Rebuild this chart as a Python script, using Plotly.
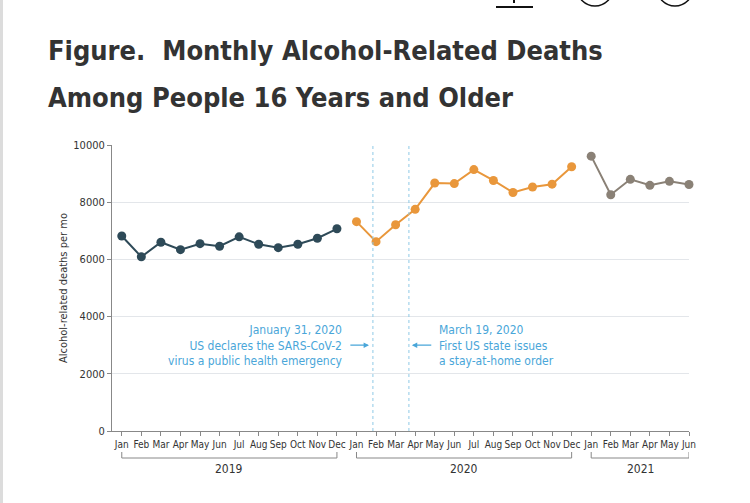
import plotly.graph_objects as go

months = ["Jan", "Feb", "Mar", "Apr", "May", "Jun", "Jul", "Aug", "Sep", "Oct", "Nov", "Dec"]
deaths_2019 = [6820, 6090, 6600, 6340, 6550, 6460, 6790, 6530, 6410, 6530, 6740, 7070]
deaths_2020 = [7320, 6620, 7210, 7750, 8670, 8650, 9140, 8760, 8340, 8530, 8630, 9240]
deaths_2021 = [9610, 8260, 8800, 8590, 8730, 8620]
years = ["2019", "2020", "2021"]
y_ticks = [0, 2000, 4000, 6000, 8000, 10000]
y_tick_labels = ["0", "2000", "4000", "6000", "8000", "10000"]
# events located as month positions (Jan 2019 = 0)
event_pos = [12.84, 14.68]
event_text = ["January 31, 2020<br>US declares the SARS-CoV-2<br>virus a public health emergency",
              "March 19, 2020<br>First US state issues<br>a stay-at-home order"]
title_lines = ["Figure.  Monthly Alcohol-Related Deaths", "Among People 16 Years and Older"]

FONT = "DejaVu Sans Condensed, Liberation Sans Narrow, sans-serif"
colors = ["#2e4a58", "#e9973b", "#8a8176"]
series = [deaths_2019, deaths_2020, deaths_2021]

W, H = 750, 503
ML, MR, MT, MB = 112, 61, 145, 72
PW, PH = W - ML - MR, H - MT - MB


def px_x(p):
    return (p - ML) / PW


def px_y(p):
    return (H - MB - p) / PH


fig = go.Figure()
start = 0
x_all_labels = []
year_spans = []
for yr, vals, col in zip(years, series, colors):
    xs = list(range(start, start + len(vals)))
    fig.add_trace(go.Scatter(x=xs, y=vals, mode="lines+markers",
                             line=dict(color=col, width=2),
                             marker=dict(color=col, size=9),
                             showlegend=False, hoverinfo="skip", cliponaxis=False))
    x_all_labels += months[:len(vals)]
    year_spans.append((xs[0], xs[-1]))
    start += len(vals)

n = len(x_all_labels)

# event lines
for p in event_pos:
    fig.add_shape(type="line", x0=p, x1=p, y0=0, y1=10000, xref="x", yref="y",
                  line=dict(color="#8fc9e6", width=1, dash="dot"))

blue = "#49a6d9"
fig.add_annotation(x=11.41, y=3000, text=event_text[0], showarrow=False,
                   xanchor="right", yanchor="middle", align="right",
                   font=dict(family=FONT, size=12, color=blue))
fig.add_annotation(x=event_pos[0] - 0.2, y=3000, ax=11.61, ay=3000, axref="x", ayref="y",
                   text="", showarrow=True, arrowhead=2, arrowsize=0.9, arrowwidth=1.2,
                   arrowcolor=blue)
fig.add_annotation(x=16.14, y=3000, text=event_text[1], showarrow=False,
                   xanchor="left", yanchor="middle", align="left",
                   font=dict(family=FONT, size=12, color=blue))
fig.add_annotation(x=event_pos[1] + 0.15, y=3000, ax=15.9, ay=3000, axref="x", ayref="y",
                   text="", showarrow=True, arrowhead=2, arrowsize=0.9, arrowwidth=1.2,
                   arrowcolor=blue)

# year brackets
for yr, (a, b) in zip(years, year_spans):
    fig.add_shape(type="path", xref="x", yref="paper",
                  path=f"M {a},{px_y(452)} L {a},{px_y(458)} L {b},{px_y(458)} L {b},{px_y(452)}",
                  line=dict(color="#888888", width=1))
    fig.add_annotation(x=(a + b) / 2, y=px_y(469), xref="x", yref="paper", text=yr,
                       showarrow=False, yanchor="middle", xanchor="center",
                       font=dict(family=FONT, size=12, color="#333333"))

# y axis title
fig.add_annotation(x=px_x(63), y=0.5, xref="paper", yref="paper", xanchor="center",
                   yanchor="middle",
                   text="Alcohol-related deaths per mo", textangle=-90, showarrow=False,
                   font=dict(family=FONT, size=11, color="#333333"))

# title lines
for line, yc in zip(title_lines, [50, 98]):
    fig.add_annotation(x=px_x(46), y=px_y(yc), xref="paper", yref="paper",
                       xanchor="left", yanchor="middle", showarrow=False,
                       text=f"<b>{line}</b>",
                       font=dict(family=FONT, size=27, color="#333333"))

# page chrome (top icons, left border)
fig.add_shape(type="rect", xref="paper", yref="paper", x0=px_x(0), x1=px_x(3),
              y0=px_y(503), y1=px_y(0), line=dict(width=0), fillcolor="#dcdcdc")
fig.add_shape(type="line", xref="paper", yref="paper", x0=px_x(496), x1=px_x(533),
              y0=px_y(7), y1=px_y(7), line=dict(color="#111111", width=2))
fig.add_shape(type="line", xref="paper", yref="paper", x0=px_x(514), x1=px_x(514),
              y0=px_y(0), y1=px_y(3), line=dict(color="#111111", width=2))
for cx in [595, 675]:
    fig.add_shape(type="circle", xref="paper", yref="paper", x0=px_x(cx - 18), x1=px_x(cx + 18),
                  y0=px_y(6), y1=px_y(-30), line=dict(color="#111111", width=1.5))

fig.update_layout(
    width=W, height=H,
    margin=dict(l=ML, r=MR, t=MT, b=MB),
    paper_bgcolor="white", plot_bgcolor="white",
    xaxis=dict(range=[-0.5, n - 1], tickmode="array",
               tickvals=list(range(n)), ticktext=x_all_labels, tickangle=0,
               showgrid=False, zeroline=False, showline=True, linecolor="#888888",
               ticks="outside", ticklen=4, tickcolor="#888888", automargin=False,
               tickfont=dict(family=FONT, size=10, color="#333333"), fixedrange=True),
    yaxis=dict(range=[0, 10000], tickmode="array", tickvals=y_ticks, ticktext=y_tick_labels,
               showgrid=True, gridcolor="#e3e6ea", automargin=False,
               zeroline=False, showline=True, linecolor="#888888",
               ticks="outside", ticklen=4, tickcolor="#888888",
               tickfont=dict(family=FONT, size=11, color="#333333")),
)

fig.write_html("out.html", config={"displayModeBar": False},
               post_script="document.body.style.margin='0';document.body.style.overflow='hidden';")
